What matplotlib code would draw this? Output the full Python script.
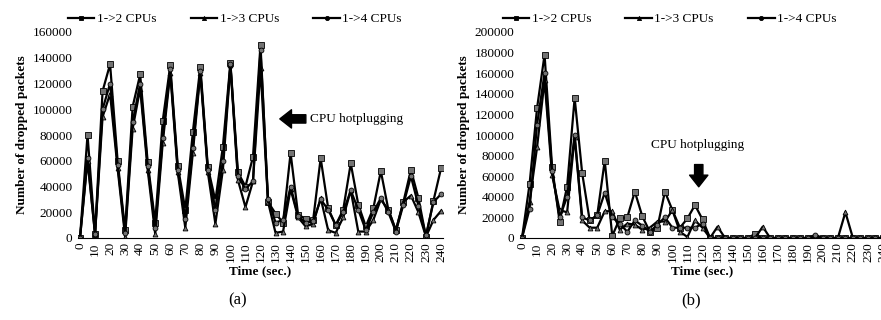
import numpy as np
import matplotlib
matplotlib.use("Agg")
import matplotlib.pyplot as plt

plt.rcParams["font.family"] = ["Liberation Serif", "DejaVu Serif"]

# time axis (sec.), one sample every 5 s
time = list(range(0, 245, 5))
tick_labels = [str(t) for t in range(0, 250, 10)]

# (a) dropped packets
a_12 = [0, 80000, 3000, 114000, 135000, 60000, 6000, 102000, 127000, 59000,
        12000, 91000, 134000, 56000, 22000, 82000, 133000, 55000, 29000, 71000,
        136000, 51000, 40000, 63000, 150000, 28000, 19000, 12000, 66000, 18000,
        15000, 14000, 62000, 23000, 10000, 22000, 58000, 26000, 9000, 23000,
        52000, 22000, 6000, 28000, 53000, 31000, 1000, 29000, 54000]
a_13 = [0, 60000, 3000, 94000, 112000, 54000, 1000, 85000, 116000, 53000,
        3000, 74000, 128000, 51000, 8000, 66000, 128000, 51000, 11000, 53000,
        134000, 45000, 24000, 44000, 132000, 28000, 4000, 5000, 38000, 16000,
        9000, 11000, 31000, 6000, 4000, 16000, 37000, 5000, 5000, 14000,
        30000, 22000, 6000, 28000, 33000, 20000, 1000, 14000, 21000]
a_14 = [0, 62000, 3000, 100000, 120000, 57000, 4000, 90000, 120000, 56000,
        8000, 78000, 131000, 53000, 15000, 70000, 130000, 53000, 22000, 60000,
        135000, 48000, 38000, 44000, 146000, 30000, 12000, 14000, 40000, 17000,
        12000, 13000, 30000, 22000, 10000, 20000, 37000, 22000, 6000, 20000,
        31000, 20000, 5000, 26000, 48000, 25000, 2000, 28000, 34000]

# (b) dropped packets
b_12 = [0, 52000, 126000, 178000, 69000, 16000, 50000, 136000, 63000, 17000,
        22000, 75000, 2000, 19000, 20000, 45000, 21000, 6000, 10000, 45000,
        27000, 10000, 19000, 32000, 18000, 0, 0, 0, 0, 0,
        0, 4000, 0, 0, 0, 0, 0, 0, 0, 0,
        0, 0, 0, 0, 0, 0, 0, 0, 0]
b_13 = [0, 35000, 88000, 153000, 61000, 27000, 25000, 98000, 17000, 10000,
        10000, 26000, 26000, 8000, 14000, 13000, 8000, 10000, 16000, 16000,
        27000, 6000, 1000, 17000, 10000, 0, 11000, 0, 0, 0,
        0, 0, 11000, 0, 0, 0, 0, 0, 0, 0,
        0, 0, 0, 25000, 0, 0, 0, 0, 0]
b_14 = [0, 28000, 110000, 160000, 65000, 20000, 40000, 100000, 20000, 17000,
        22000, 44000, 20000, 14000, 6000, 17000, 12000, 6000, 13000, 20000,
        10000, 10000, 10000, 10000, 14000, 0, 0, 0, 0, 0,
        0, 0, 0, 0, 0, 0, 0, 0, 0, 3000,
        0, 0, 0, 0, 0, 0, 0, 0, 0]

fig = plt.figure(figsize=(8.81, 3.2), dpi=100)
ax1 = fig.add_axes([78 / 881, 82 / 320, 365 / 881, 206 / 320])
ax2 = fig.add_axes([520 / 881, 82 / 320, 365 / 881, 206 / 320])

styles = [("1->2 CPUs", "s", 4), ("1->3 CPUs", "^", 3.5), ("1->4 CPUs", "o", 3.5)]


def draw(ax, series, ymax, step, anchor_x):
    for (label, mk, ms), vals in zip(styles, series):
        ax.plot(time, vals, color="black", lw=1.6, marker=mk, ms=ms,
                mfc="0.45", mec="black", mew=0.6, label=label)
    ax.set_xlim(-1.33, 241.33)
    ax.set_ylim(0, ymax)
    ax.set_yticks(np.arange(0, ymax + 1, step))
    ax.set_xticks(range(0, 250, 10))
    ax.set_xticklabels(tick_labels, rotation=90, fontsize=9.5)
    ax.tick_params(axis="y", labelsize=9.5, length=0, pad=4)
    ax.tick_params(axis="x", length=0, pad=3)
    for s in ["top", "right", "left"]:
        ax.spines[s].set_visible(False)
    ax.spines["bottom"].set_linewidth(0.8)
    ax.set_xlabel("Time (sec.)", fontsize=9.5, fontweight="bold", labelpad=2)
    ax.set_ylabel("Number of dropped packets", fontsize=9.5, fontweight="bold", labelpad=3)
    leg = ax.legend(loc="lower center", bbox_to_anchor=(anchor_x, 1.0), ncol=3,
                    frameon=False, fontsize=9.5, handlelength=2.0, columnspacing=2.6,
                    handletextpad=0.2, borderaxespad=0.1)
    for h in leg.legend_handles:
        h.set_markersize(3)
        h.set_markerfacecolor("black")


draw(ax1, [a_12, a_13, a_14], 160000, 20000, 0.43)
draw(ax2, [b_12, b_13, b_14], 200000, 20000, 0.41)

arrow = dict(arrowstyle="simple,head_length=0.7,head_width=1.1,tail_width=0.5",
             color="black", mutation_scale=12)
ax1.annotate("", xy=(131, 92500), xytext=(152, 92500), arrowprops=arrow)
ax1.text(153, 92500, "CPU hotplugging", fontsize=9.5, va="center", ha="left")
ax2.annotate("", xy=(117.5, 47000), xytext=(117.5, 74000), arrowprops=arrow)
ax2.text(117, 90000, "CPU hotplugging", fontsize=9.5, va="center", ha="center")

fig.text(238 / 881, 1 - 300 / 320, "(a)", fontsize=12, ha="center", va="center")
fig.text(691 / 881, 1 - 300 / 320, "(b)", fontsize=12, ha="center", va="center")

fig.savefig("out.png", dpi=100)
